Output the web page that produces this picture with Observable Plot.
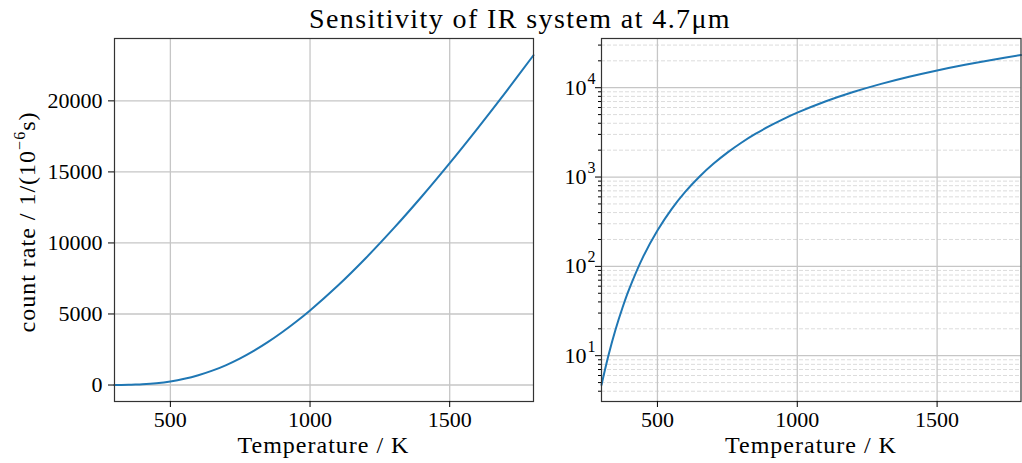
<!DOCTYPE html>
<html><head><meta charset="utf-8">
<script src="https://cdn.jsdelivr.net/npm/d3@7"></script>
<script src="https://cdn.jsdelivr.net/npm/@observablehq/plot@0.6"></script>
<style>
body{margin:0;background:#fff;}
#fig{position:relative;width:1022px;height:463px;font-family:"Liberation Serif",serif;}
#fig > svg{position:absolute;top:0;}
</style></head><body>
<div id="fig"></div>
<script>
// Data
const temperature = [300,325,350,375,400,450,500,550,600,650,700,750,800,850,900,950,1000,1100,1200,1300,1400,1500,1600,1700,1800];
const countRate   = [4.7,10.1,19.5,34.4,56.6,130,252,435,686,1009,1406,1877,2421,3034,3712,4452,5250,7004,8943,11040,13270,15620,18070,20600,23210];
const xTicks = [500,1000,1500];
const linearTicks = [0,5000,10000,15000,20000];
const logMajorTicks = [10,100,1000,10000];
const logMinorTicks = [4,5,6,7,8,9,20,30,40,50,60,70,80,90,200,300,400,500,600,700,800,900,2000,3000,4000,5000,6000,7000,8000,9000,20000,30000];
const titleText = "Sensitivity of IR system at 4.7μm";
const xLabel = "Temperature / K";

const data = temperature.map((t,i)=>({T:t, N:countRate[i]}));
const fig = document.getElementById("fig");
const lineColor = "#1f77b4";
const gridMajor = {stroke:"#c6c6c6", strokeOpacity:1, strokeWidth:1.3};
const font = "Liberation Serif";
const tickFont = 22;

// ----- left (linear) -----
const left = Plot.plot({
  width:545, height:463,
  marginLeft:114, marginRight:12, marginTop:38, marginBottom:62,
  x:{domain:[300,1800]},
  y:{domain:[-1160,24390]},
  style:{fontFamily:font, fontSize:tickFont+"px", color:"#000", background:"transparent", overflow:"visible"},
  marks:[
    Plot.gridX(xTicks, gridMajor),
    Plot.gridY(linearTicks, gridMajor),
    Plot.line(data,{x:"T", y:"N", stroke:lineColor, strokeWidth:2, curve:"catmull-rom"}),
    Plot.frame({stroke:"#333", strokeWidth:1.2}),
    Plot.axisX(xTicks,{tickSize:6, tickPadding:4, label:null, tickFormat:d=>String(d), fontSize:tickFont}),
    Plot.axisY(linearTicks,{tickSize:6, tickPadding:6, label:null, tickFormat:d=>String(d), fontSize:tickFont})
  ]
});
left.style.left = "0px";
fig.appendChild(left);

// ----- right (log) -----
const right = Plot.plot({
  width:477, height:463,
  marginLeft:56, marginRight:1.5, marginTop:38, marginBottom:62,
  x:{domain:[300,1800]},
  y:{type:"log", domain:[3.07,35550]},
  style:{fontFamily:font, fontSize:tickFont+"px", color:"#000", background:"transparent", overflow:"visible"},
  marks:[
    Plot.gridY(logMinorTicks,{stroke:"#dcdcdc", strokeOpacity:1, strokeWidth:1, strokeDasharray:"4,2"}),
    Plot.gridX(xTicks, gridMajor),
    Plot.gridY(logMajorTicks, gridMajor),
    Plot.line(data,{x:"T", y:"N", stroke:lineColor, strokeWidth:2, curve:"catmull-rom"}),
    Plot.frame({stroke:"#333", strokeWidth:1.2}),
    Plot.axisX(xTicks,{tickSize:6, tickPadding:4, label:null, tickFormat:d=>String(d), fontSize:tickFont}),
    Plot.axisY(logMinorTicks,{tickSize:3, label:null, tickFormat:()=>""}),
    Plot.axisY(logMajorTicks,{tickSize:6, tickPadding:9, label:null, tickFormat:()=>"10", fontSize:tickFont}),
    Plot.text(logMajorTicks,{y:d=>d, frameAnchor:"left", text:d=>String(Math.round(Math.log10(d))), textAnchor:"start", dx:-14, dy:-9, fontSize:16, fill:"#000"})
  ]
});
right.style.left = "545px";
fig.appendChild(right);

// ----- axis labels & title -----
function addXLabel(svg, cx){
  d3.select(svg).append("text")
    .attr("x", cx).attr("y", 453)
    .attr("text-anchor","middle")
    .attr("font-family", font).attr("font-size", 24)
    .attr("letter-spacing", "1px")
    .attr("fill","#000")
    .text(xLabel);
}
addXLabel(left, (114+533)/2);
addXLabel(right, (56+476)/2);

const yl = d3.select(left).append("text")
  .attr("transform","translate(35,222) rotate(-90)")
  .attr("text-anchor","middle")
  .attr("font-family", font).attr("font-size", 24)
  .attr("letter-spacing","1px")
  .attr("fill","#000");
yl.append("tspan").text("count rate / 1/(10");
yl.append("tspan").attr("font-size",16).attr("dy",-10).text("−6");
yl.append("tspan").attr("dy",10).text("s)");

const over = d3.select(fig).append("svg")
  .attr("width",1022).attr("height",40)
  .style("left","0px");
over.append("text")
  .attr("x", 520).attr("y", 28)
  .attr("text-anchor","middle")
  .attr("font-family", font).attr("font-size", 28)
  .attr("letter-spacing","1.4px")
  .attr("fill","#000")
  .text(titleText);
</script>
</body></html>
